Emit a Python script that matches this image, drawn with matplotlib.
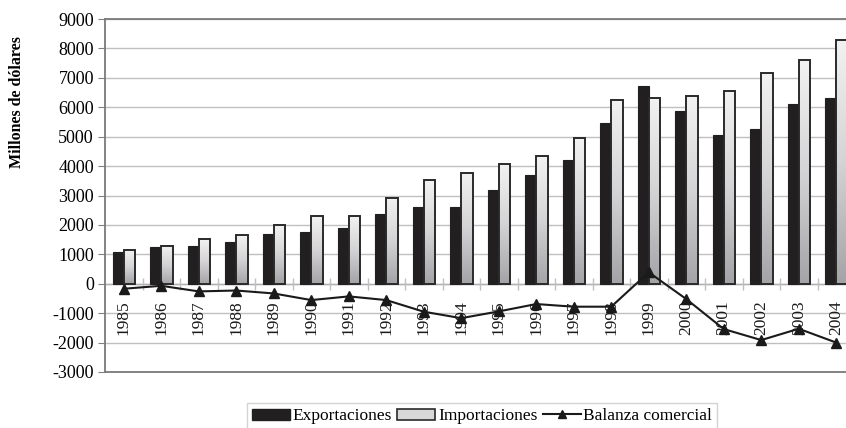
import numpy as np
import matplotlib
matplotlib.use("Agg")
import matplotlib.pyplot as plt
from matplotlib.colors import LinearSegmentedColormap
from matplotlib.lines import Line2D
from matplotlib.patches import Patch

years = [str(y) for y in range(1985, 2005)]
exportaciones = [1065, 1235, 1290, 1430, 1690, 1750, 1900, 2370, 2620, 2620,
                 3180, 3680, 4200, 5480, 6720, 5880, 5070, 5270, 6100, 6300]
importaciones = [1155, 1270, 1520, 1645, 1985, 2300, 2300, 2930, 3530, 3780,
                 4080, 4330, 4950, 6235, 6330, 6385, 6545, 7150, 7610, 8270]
balanza = [-170, -70, -260, -230, -330, -555, -430, -555, -950, -1170,
           -940, -690, -780, -780, 390, -520, -1540, -1915, -1530, -2000]

plt.rcParams["font.family"] = ["Liberation Serif", "DejaVu Serif"]
plt.rcParams["axes.unicode_minus"] = False

W, H = 846, 428
fig = plt.figure(figsize=(W / 100, H / 100), dpi=100)
ax = fig.add_axes([105 / W, 1 - 372 / H, 750 / W, 353 / H])

x = np.arange(len(years))
bw = 0.3
grad = LinearSegmentedColormap.from_list("imp", ["#a4a4a8", "#d4d4d6", "#f2f2f2"])

ax.bar(x - bw / 2, exportaciones, bw, color="#221f20", edgecolor="#221f20", lw=0.8, zorder=3)
bars = ax.bar(x + bw / 2, importaciones, bw, facecolor="none", edgecolor="#2a2a2a", lw=1.4, zorder=4)
ramp = np.linspace(0, 1, 128).reshape(-1, 1)
for b in bars:
    x0, w, h = b.get_x(), b.get_width(), b.get_height()
    im = ax.imshow(ramp, cmap=grad, origin="lower", aspect="auto",
                   extent=[x0, x0 + w, 0, h], zorder=3.5)
    im.set_clip_path(b)

ax.plot(x, balanza, color="#1a1a1a", lw=1.5, marker="^", ms=7, zorder=5)

ax.set_xlim(-0.5, len(years) - 0.5)
ax.set_ylim(-3000, 9000)
ax.set_yticks(range(-3000, 9001, 1000))
ax.tick_params(axis="y", labelsize=13, length=5, color="#808080", pad=3)
ax.set_xticks([])
ax.yaxis.grid(True, color="#c0c0c0", lw=1)
ax.set_axisbelow(True)
ax.axhline(0, color="#b0b0b0", lw=1, zorder=2)
ax.vlines(x[:-1] + 0.5, -200, 180, color="#c0c0c0", lw=1, zorder=2)
for s in ["left", "bottom", "top", "right"]:
    ax.spines[s].set_color("#7a7a7a")
    ax.spines[s].set_linewidth(1.3)

for xi, yr in zip(x, years):
    ax.text(xi, -560, yr, rotation=90, ha="center", va="top", fontsize=12.5, color="#1a1a1a", zorder=6)

fig.text(17 / W, 1 - 102 / H, "Millones de dólares", rotation=90, ha="center", va="center",
         fontsize=11.5, fontweight="bold")

handles = [
    Patch(facecolor="#221f20", edgecolor="#221f20"),
    Patch(facecolor="#d8d8d8", edgecolor="#2a2a2a", lw=1.2),
    Line2D([0], [0], color="#1a1a1a", lw=1.5, marker="^", ms=6),
]
leg = fig.legend(handles, ["Exportaciones", "Importaciones", "Balanza comercial"],
                 loc="upper center", bbox_to_anchor=(482 / W, 1 - 403 / H), ncol=3,
                 fontsize=12.5, frameon=True, fancybox=False, edgecolor="#c8c8c8",
                 handlelength=2.2, handleheight=0.6, handletextpad=0.15, columnspacing=0.3,
                 borderpad=0.3, borderaxespad=0)
leg.get_frame().set_linewidth(1)

fig.savefig("out.png", dpi=100)
